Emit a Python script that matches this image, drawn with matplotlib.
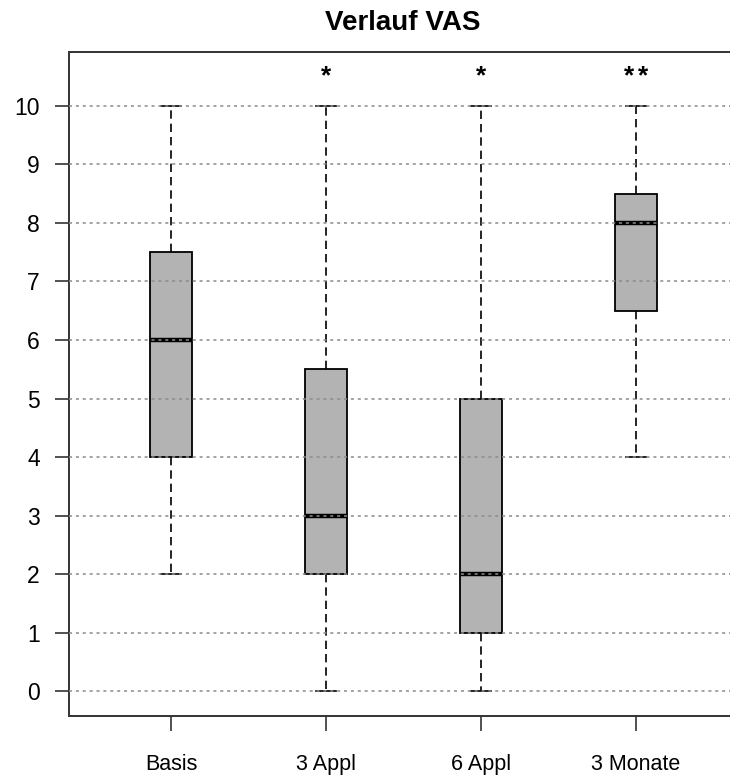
import numpy as np
import matplotlib.pyplot as plt

plt.rcParams['font.family'] = ['Liberation Sans', 'DejaVu Sans']

groups = ['Basis', '3 Appl', '6 Appl', '3 Monate']
whisker_low = [2, 0, 0, 4]
q1 = [4, 2, 1, 6.5]
medians = [6, 3, 2, 8]
q3 = [7.5, 5.5, 5, 8.5]
whisker_high = [10, 10, 10, 10]
n_stars = [0, 1, 1, 2]

stats = []
for i in range(len(groups)):
    stats.append({'label': groups[i], 'whislo': whisker_low[i], 'q1': q1[i],
                  'med': medians[i], 'q3': q3[i], 'whishi': whisker_high[i],
                  'fliers': []})

fig = plt.figure(figsize=(7.3, 7.76), dpi=100)
ax = fig.add_axes([0.0945, 0.0773, 0.917, 0.856])

pos = np.arange(1, len(groups) + 1)
ax.bxp(stats, positions=pos, widths=0.27, patch_artist=True,
       boxprops=dict(facecolor='#b3b3b3', edgecolor='black', linewidth=1.3),
       medianprops=dict(color='black', linewidth=3.2),
       whiskerprops=dict(color='black', linewidth=1.2, linestyle=(0, (5, 3))),
       capprops=dict(color='black', linewidth=1.2), capwidths=0.13,
       zorder=2)

# horizontal dotted grid over the boxes
for y in range(0, 11):
    ax.axhline(y, color='#8c8c8c', linestyle=(0, (2, 2.5)), linewidth=1.1, zorder=3)

# significance stars above the whiskers
for x, n in zip(pos, n_stars):
    for k in range(n):
        dx = (k - (n - 1) / 2) * 9.5
        ax.annotate('*', (x, 10.5), xytext=(dx, 0), textcoords='offset points',
                    ha='center', va='center', fontsize=19, fontweight='bold')

ax.set_xlim(0.34, 4.66)
ax.set_ylim(-0.42, 10.92)
ax.set_yticks(range(0, 11))
ax.set_xticks(pos)
ax.set_xticklabels(groups)
ax.tick_params(axis='y', labelsize=16.5, length=10, width=1.2, color='#333333', pad=11)
ax.tick_params(axis='x', labelsize=15.5, length=11, width=1.2, color='#333333', pad=16)
for sp in ax.spines.values():
    sp.set_linewidth(1.4)
    sp.set_color('#333333')

fig.text(0.552, 0.971, 'Verlauf VAS', ha='center', va='center', fontsize=20, fontweight='bold')

fig.savefig('out.png', dpi=100)
